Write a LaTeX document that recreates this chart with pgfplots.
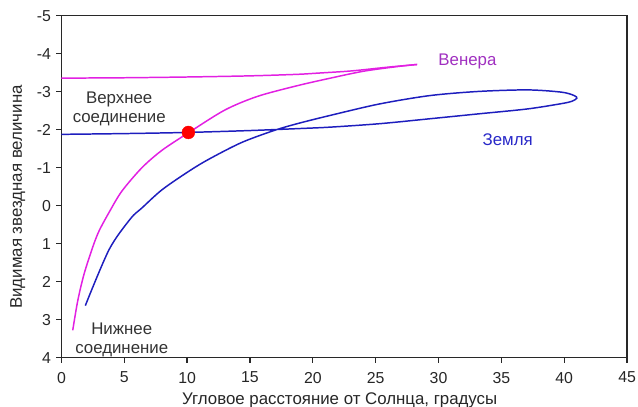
\documentclass[border=0pt]{standalone}
\usepackage{pgfplots}
\pgfplotsset{compat=1.18}
\usepackage{fontspec}
\setmainfont{Liberation Sans}

\definecolor{venus}{RGB}{226,32,226}
\definecolor{venuslbl}{RGB}{160,48,192}
\definecolor{earth}{RGB}{30,30,190}
\definecolor{earthlbl}{RGB}{40,40,200}
\definecolor{axisgray}{RGB}{40,40,40}

\begin{document}
\begin{tikzpicture}
\useasboundingbox (-62bp,-49bp) rectangle (582bp,361bp);
\begin{axis}[
    scale only axis,
    width=571bp, height=345bp,
    xmin=0, xmax=45,
    ymin=-5, ymax=4,
    y dir=reverse,
    xtick={0,5,...,45},
    ytick={-5,-4,...,4},
    yticklabels={-5,-4,-3,-2,-1,0,1,2,3,4},
    xtick pos=bottom, ytick pos=left,
    tick align=outside,
    major tick length=5bp,
    axis line style={axisgray, line width=1.3bp},
    every tick/.style={axisgray, line width=1.3bp},
    /pgf/number format/assume math mode=true,
    tick label style={font=\fontsize{16bp}{18bp}\selectfont, text=black!85},
    yticklabel style={xshift=-2bp},
    xticklabel style={yshift=-6bp},
    label style={font=\fontsize{17bp}{19bp}\selectfont, text=black!85},
    xlabel={Угловое расстояние от Солнца, градусы},
    ylabel={Видимая звездная величина},
    xlabel style={at={(axis description cs:0.492,-0.124)}, anchor=center},
    ylabel style={at={(axis description cs:-0.077,0.47)}, anchor=center},
    clip=false,
]

% Venus: rising branch, then back along the top
\addplot[venus, line width=1.5bp, smooth, tension=0.5] coordinates {
    (0.9,3.28) (1.3,2.5) (1.8,1.8) (2.5,1.08) (3.0,0.66) (3.8,0.17)
    (4.8,-0.38) (6.4,-1.0) (8.0,-1.46) (10.1,-1.92) (13.0,-2.52)
    (15.6,-2.88) (18.75,-3.16) (21.4,-3.36) (24.0,-3.54)
    (26.6,-3.66) (28.3,-3.72)
};
\addplot[venus, line width=1.5bp, smooth, tension=0.5] coordinates {
    (28.3,-3.72) (26.0,-3.65) (24.0,-3.58) (22.7,-3.54) (20.3,-3.49)
    (18.75,-3.46) (15.0,-3.42) (10.0,-3.39) (5.0,-3.37) (0,-3.36)
};

% Earth
\addplot[earth, line width=1.5bp, smooth, tension=0.5] coordinates {
    (1.9,2.63) (3.8,1.15) (5.5,0.34) (6.4,0.06) (8.0,-0.42) (10.1,-0.9)
    (11.7,-1.22) (14.3,-1.66) (16.9,-1.98) (18.75,-2.16) (21.4,-2.38)
    (25.3,-2.68) (29.3,-2.90) (33.2,-3.01) (37.1,-3.05)
    (39.8,-2.99) (40.8,-2.9) (41.0,-2.83) (40.6,-2.75) (39.8,-2.69)
    (37.1,-2.55) (33.2,-2.42) (29.3,-2.29) (25.3,-2.16) (21.4,-2.07)
    (18.75,-2.03) (15.0,-1.98) (10.0,-1.93) (5.0,-1.9) (0,-1.88)
};

% superior conjunction of Venus
\addplot[only marks, mark=*, mark size=6.5bp, color=red] coordinates {(10.1,-1.93)};

\node[venuslbl, font=\fontsize{17bp}{19bp}\selectfont] at (axis cs:32.3,-3.8) {Венера};
\node[earthlbl, font=\fontsize{17bp}{19bp}\selectfont] at (axis cs:35.5,-1.74) {Земля};
\node[align=center, text=black!80, font=\fontsize{17bp}{19bp}\selectfont]
    at (axis cs:4.6,-2.55) {Верхнее\\соединение};
\node[align=center, text=black!80, font=\fontsize{17bp}{19bp}\selectfont]
    at (axis cs:4.8,3.53) {Нижнее\\соединение};

\end{axis}
\end{tikzpicture}
\end{document}
